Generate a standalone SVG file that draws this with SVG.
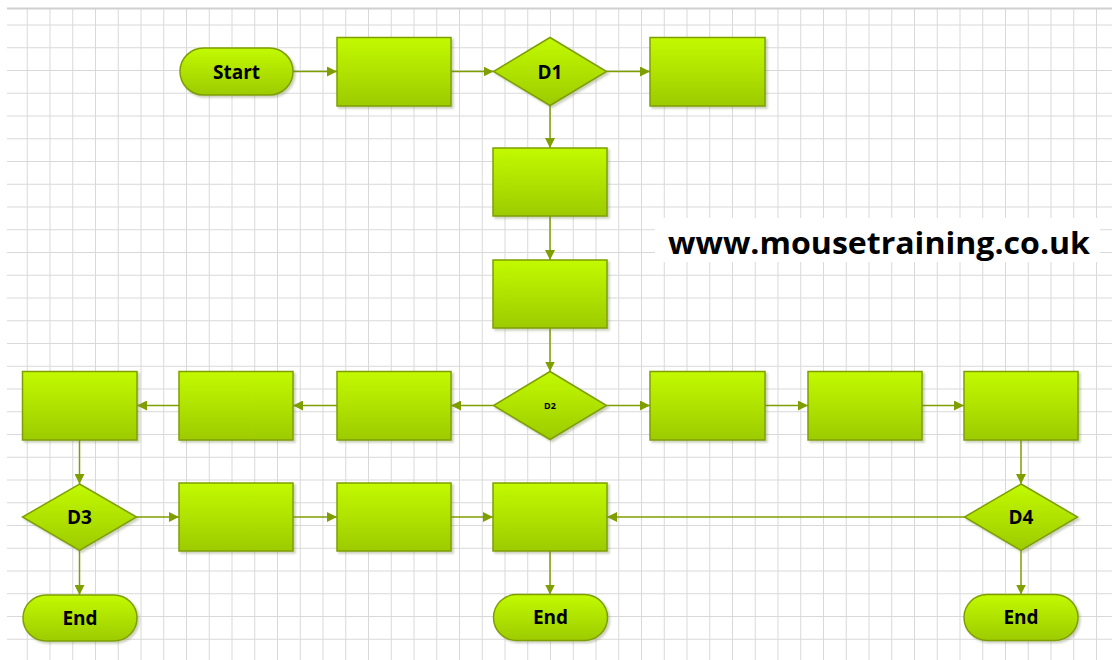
<svg xmlns="http://www.w3.org/2000/svg" width="1112" height="660" viewBox="0 0 1112 660">
<style>
.grid{stroke:#d9d9d9;stroke-width:1;fill:none}
.shape{fill:url(#g);stroke:#7f9f00;stroke-width:1.5;filter:url(#sh)}
.lbl{font-family:"Open Sans","Liberation Sans",sans-serif;font-weight:700;font-size:19px;fill:#000;text-anchor:middle}
.conn{stroke:#7f9f00;stroke-width:1.5;fill:none;marker-end:url(#ah)}
</style>
<defs>
<linearGradient id="g" x1="0" y1="0" x2="0" y2="1">
<stop offset="0" stop-color="#c2fa00"/>
<stop offset="1" stop-color="#9dcb00"/>
</linearGradient>
<filter id="sh" x="-10%" y="-10%" width="125%" height="130%">
<feDropShadow dx="2" dy="2" stdDeviation="1" flood-color="#6a7a40" flood-opacity="0.35"/>
</filter>
<marker id="ah" markerUnits="userSpaceOnUse" markerWidth="11" markerHeight="10" refX="10" refY="5" orient="auto">
<path d="M0,0 L10,5 L0,10 z" fill="#7f9f00"/>
</marker>
</defs>
<rect width="1112" height="660" fill="#fff"/>
<g id="grid">
<path class="grid" d="M27.25 8V660M50 8V660M72.75 8V660M95.5 8V660M118.25 8V660M141 8V660M163.75 8V660M186.5 8V660M209.25 8V660M232 8V660M254.75 8V660M277.5 8V660M300.25 8V660M323 8V660M345.75 8V660M368.5 8V660M391.25 8V660M414 8V660M436.75 8V660M459.5 8V660M482.25 8V660M505 8V660M527.75 8V660M550.5 8V660M573.25 8V660M596 8V660M618.75 8V660M641.5 8V660M664.25 8V660M687 8V660M709.75 8V660M732.5 8V660M755.25 8V660M778 8V660M800.75 8V660M823.5 8V660M846.25 8V660M869 8V660M891.75 8V660M914.5 8V660M937.25 8V660M960 8V660M982.75 8V660M1005.5 8V660M1028.25 8V660M1051 8V660M1073.75 8V660M1096.5 8V660"/>
<path class="grid" d="M7 25H1112M7 47.75H1112M7 70.5H1112M7 93.25H1112M7 116H1112M7 138.75H1112M7 161.5H1112M7 184.25H1112M7 207H1112M7 229.75H1112M7 252.5H1112M7 275.25H1112M7 298H1112M7 320.75H1112M7 343.5H1112M7 366.25H1112M7 389H1112M7 411.75H1112M7 434.5H1112M7 457.25H1112M7 480H1112M7 502.75H1112M7 525.5H1112M7 548.25H1112M7 571H1112M7 593.75H1112M7 616.5H1112M7 639.25H1112"/>
<path d="M7 8.5H1112" stroke="#d0d0d0" stroke-width="2"/>
</g>
<g id="connectors">
<path class="conn" d="M293 71.5H337"/>
<path class="conn" d="M451 71.5H493.5"/>
<path class="conn" d="M606.5 71.5H650"/>
<path class="conn" d="M550 105V148"/>
<path class="conn" d="M550 216V260"/>
<path class="conn" d="M550 328V371.5"/>
<path class="conn" d="M493.5 405.5H451"/>
<path class="conn" d="M337 405.5H293"/>
<path class="conn" d="M179 405.5H137"/>
<path class="conn" d="M606.5 405.5H650"/>
<path class="conn" d="M765 405.5H808"/>
<path class="conn" d="M922 405.5H964"/>
<path class="conn" d="M79.5 440V484"/>
<path class="conn" d="M1021 440V484"/>
<path class="conn" d="M136.5 517H179"/>
<path class="conn" d="M293 517H337"/>
<path class="conn" d="M451 517H493"/>
<path class="conn" d="M965 517H607"/>
<path class="conn" d="M79.5 550.5V595"/>
<path class="conn" d="M550 551V594.5"/>
<path class="conn" d="M1021 550.5V594.5"/>
</g>
<g id="start"><rect class="shape" x="180" y="48" width="113" height="47" rx="23.5"/><text class="lbl" x="236.5" y="78.5">Start</text></g>
<g id="p1"><rect class="shape" x="337" y="37.5" width="114" height="68.5"/></g>
<g id="d1"><path class="shape" d="M550 37.5L606.5 71.5L550 105.5L493.5 71.5Z"/><text class="lbl" x="550" y="78.5">D1</text></g>
<g id="p2"><rect class="shape" x="650" y="37.5" width="115" height="68.5"/></g>
<g id="p3"><rect class="shape" x="493" y="148" width="114" height="68"/></g>
<g id="p4"><rect class="shape" x="493" y="260" width="114" height="68"/></g>
<g id="d2"><path class="shape" d="M550 371.5L606.5 405.5L550 439.5L493.5 405.5Z"/><text class="lbl" x="550" y="408.5" style="font-size:9px">D2</text></g>
<g id="p5"><rect class="shape" x="337" y="371.5" width="114" height="68.5"/></g>
<g id="p6"><rect class="shape" x="179" y="371.5" width="114" height="68.5"/></g>
<g id="p7"><rect class="shape" x="22.5" y="371.5" width="114.5" height="68.5"/></g>
<g id="p8"><rect class="shape" x="650" y="371.5" width="115" height="68.5"/></g>
<g id="p9"><rect class="shape" x="808" y="371.5" width="114" height="68.5"/></g>
<g id="p10"><rect class="shape" x="964" y="371.5" width="114" height="68.5"/></g>
<g id="d3"><path class="shape" d="M79.5 484L136.5 517L79.5 550.5L22.5 517Z"/><text class="lbl" x="79.5" y="524">D3</text></g>
<g id="p11"><rect class="shape" x="179" y="483" width="114" height="68"/></g>
<g id="p12"><rect class="shape" x="337" y="483" width="114" height="68"/></g>
<g id="p13"><rect class="shape" x="493" y="483" width="114" height="68"/></g>
<g id="d4"><path class="shape" d="M1021 484L1077.5 517L1021 550.5L964.5 517Z"/><text class="lbl" x="1021" y="524">D4</text></g>
<g id="end1"><rect class="shape" x="23" y="595" width="114" height="46" rx="23"/><text class="lbl" x="80" y="624.5">End</text></g>
<g id="end2"><rect class="shape" x="493.5" y="594.5" width="114" height="46" rx="23"/><text class="lbl" x="550.5" y="624">End</text></g>
<g id="end3"><rect class="shape" x="964" y="594.5" width="114" height="46" rx="23"/><text class="lbl" x="1021" y="624">End</text></g>
<g id="website">
<rect x="655" y="218" width="445" height="44" fill="#fff"/>
<text x="668" y="253.5" textLength="422" lengthAdjust="spacingAndGlyphs" style="font-family:'Open Sans','Liberation Sans',sans-serif;font-weight:700;font-size:31px;fill:#000">www.mousetraining.co.uk</text>
</g>
</svg>
